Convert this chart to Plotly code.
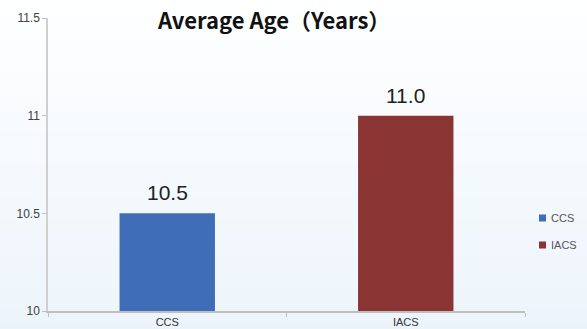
import plotly.graph_objects as go

categories = ["CCS", "IACS"]
values = [10.5, 11.0]
colors = ["#3f6db8", "#8b3434"]
y_ticks = [10, 10.5, 11, 11.5]
y_tick_labels = ["10", "10.5", "11", "11.5"]

fig = go.Figure()
annotations = []
for cat, val, col in zip(categories, values, colors):
    fig.add_trace(go.Bar(
        x=[cat], y=[val], name=cat, showlegend=False,
        marker=dict(color=col, line=dict(width=0)),
    ))
    # data label above each bar
    annotations.append(dict(x=cat, y=val, xref="x", yref="y", text=f"{val:.1f}",
                            showarrow=False, xanchor="center", yanchor="bottom", yshift=7,
                            font=dict(size=21, color="#222222",
                                      family="Liberation Sans, Arial, sans-serif")))

# vertical gradient background (white -> light blue)
shapes = []
n = 40
top = (255, 255, 255)
bot = (236, 244, 251)
y0p, y1p = -0.07, 1.07
for i in range(n):
    f = (i + 0.5) / n
    c = tuple(round(top[k] + (bot[k] - top[k]) * f) for k in range(3))
    ya = y1p - (y1p - y0p) * i / n
    yb = y1p - (y1p - y0p) * (i + 1) / n
    shapes.append(dict(type="rect", xref="paper", yref="paper", x0=-0.2, x1=1.3,
                       y0=yb, y1=ya + 0.002, fillcolor="rgb(%d,%d,%d)" % c,
                       line=dict(width=0), layer="below"))

# manual legend (small square swatches + labels) to the right of the plot
plot_l, plot_w, plot_b, plot_h = 48, 477, 311, 293
legend_rows_px = [218, 245]
for cat, col, py in zip(categories, colors, legend_rows_px):
    shapes.append(dict(type="rect", xref="paper", yref="paper",
                       x0=(539 - plot_l) / plot_w, x1=(546 - plot_l) / plot_w,
                       y0=(plot_b - py - 3.5) / plot_h, y1=(plot_b - py + 3.5) / plot_h,
                       fillcolor=col, line=dict(width=0)))
    annotations.append(dict(xref="paper", yref="paper", x=(549 - plot_l) / plot_w,
                            y=(plot_b - py) / plot_h, xanchor="left", yanchor="middle",
                            text=cat, showarrow=False,
                            font=dict(size=11, color="#555555")))

fig.update_layout(
    width=587, height=329,
    margin=dict(l=48, r=62, t=18, b=18, autoexpand=False),
    paper_bgcolor="rgb(236,244,251)",
    plot_bgcolor="rgba(0,0,0,0)",
    shapes=shapes,
    annotations=annotations,
    barmode="overlay",
    bargap=0.6,
    showlegend=False,
    font=dict(family="Liberation Sans, Arial, sans-serif", color="#333333"),
    title=dict(text="<b>Average Age（Years）</b>", x=0.467, xanchor="center",
               y=0.935, yanchor="middle",
               font=dict(size=22, color="#111111", family="Noto Sans CJK SC, Noto Sans, sans-serif")),
    xaxis=dict(showline=True, linecolor="#bfbfbf", linewidth=1.5,
               ticks="outside", tickson="boundaries", ticklen=4, tickcolor="#bfbfbf",
               tickfont=dict(size=11, color="#333333"), showgrid=False),
    yaxis=dict(range=[10, 11.5], tickvals=y_ticks, ticktext=y_tick_labels,
               showline=True, linecolor="#cfcfcf", linewidth=1.5,
               ticks="outside", ticklen=4, tickcolor="#bfbfbf",
               tickfont=dict(size=12, color="#404040"), showgrid=False, zeroline=False),
)

fig.write_html("out.html")
